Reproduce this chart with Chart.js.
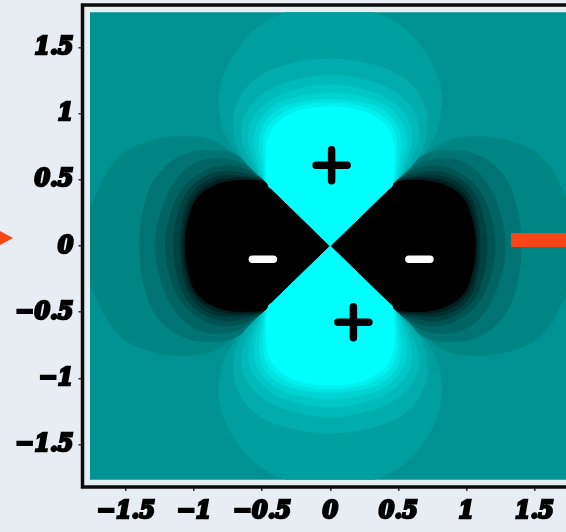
<!DOCTYPE html>
<html>
<head>
<meta charset="utf-8">
<script src="https://cdn.jsdelivr.net/npm/chart.js@4.4.1/dist/chart.umd.min.js"></script>
<style>
  html, body { margin: 0; padding: 0; background: #e7edf3; overflow: hidden; }
  #quadro { position: relative; width: 600px; height: 532px; }
  #quadro canvas { position: absolute; left: 0; top: 0; }
  .seta-esq {
    position: absolute; left: 0; top: 231px; width: 0; height: 0;
    border-top: 7.5px solid transparent; border-bottom: 7.5px solid transparent;
    border-left: 13px solid #fa4616;
  }
  .barra-dir { position: absolute; left: 511px; top: 233px; width: 60px; height: 14px; background: #fa4616; }
</style>
</head>
<body>
<div id="quadro">
  <canvas id="graficoOrbital" width="600" height="532"></canvas>
  <div class="seta-esq"></div>
  <div class="barra-dir"></div>
</div>
<script>
// Eixos
const MARCAS = [-1.5, -1, -0.5, 0, 0.5, 1, 1.5];
const LIMITE_EIXO = 1.82;
const LIMITE_CAMPO = 1.765;
const COR_BASE = '#009292';

// Curvas de nível, de fora para dentro. Cada uma é meia curva em pares [u, v]:
// u ao longo do eixo do lobo, v perpendicular (espelhada para fechar o lobo)
const NIVEIS_POS = [
  [[0.50, 0.50], [0.53, 0.53], [0.62, 0.63], [0.72, 0.70], [0.84, 0.77], [1.0, 0.81], [1.15, 0.815], [1.32, 0.77], [1.5, 0.67], [1.66, 0.52], [1.77, 0.30], [1.84, 0]],
  [[0.49, 0.49], [0.515, 0.515], [0.69, 0.655], [0.90, 0.71], [1.08, 0.68], [1.25, 0.56], [1.36, 0.34], [1.41, 0]],
  [[0.48, 0.48], [0.505, 0.505], [0.67, 0.60], [0.86, 0.65], [1.02, 0.61], [1.15, 0.49], [1.24, 0.30], [1.29, 0]],
  [[0.47, 0.47], [0.495, 0.495], [0.66, 0.565], [0.83, 0.60], [0.97, 0.56], [1.09, 0.45], [1.17, 0.28], [1.215, 0]],
  [[0.46, 0.46], [0.485, 0.485], [0.65, 0.535], [0.81, 0.56], [0.95, 0.515], [1.06, 0.41], [1.12, 0.26], [1.155, 0]],
  [[0.45, 0.45], [0.475, 0.475], [0.64, 0.505], [0.79, 0.52], [0.93, 0.48], [1.03, 0.38], [1.08, 0.24], [1.105, 0]],
  [[0.44, 0.44], [0.465, 0.465], [0.63, 0.485], [0.78, 0.49], [0.91, 0.45], [1.0, 0.35], [1.055, 0.22], [1.08, 0]],
  [[0.43, 0.43], [0.455, 0.455], [0.62, 0.47], [0.77, 0.465], [0.89, 0.42], [0.98, 0.32], [1.03, 0.19], [1.05, 0]]
];
const CORES_POS = ['#009f9f', '#00acac', '#00b9b9', '#00c6c6', '#00d3d3', '#00e1e1', '#00efef', '#00ffff'];

const NIVEIS_NEG = [
  [[0.52, 0.52], [0.56, 0.56], [0.63, 0.635], [0.70, 0.685], [0.845, 0.786], [1.04, 0.824], [1.30, 0.796], [1.55, 0.67], [1.74, 0.34], [1.86, 0]],
  [[0.51, 0.51], [0.54, 0.54], [0.69, 0.685], [0.89, 0.72], [1.07, 0.69], [1.24, 0.57], [1.35, 0.36], [1.40, 0]],
  [[0.50, 0.50], [0.53, 0.53], [0.67, 0.63], [0.85, 0.66], [1.0, 0.62], [1.13, 0.50], [1.23, 0.30], [1.285, 0]],
  [[0.49, 0.49], [0.52, 0.52], [0.66, 0.59], [0.82, 0.60], [0.95, 0.55], [1.07, 0.45], [1.16, 0.28], [1.21, 0]],
  [[0.48, 0.48], [0.51, 0.51], [0.65, 0.55], [0.80, 0.56], [0.93, 0.515], [1.04, 0.42], [1.11, 0.27], [1.15, 0]],
  [[0.47, 0.47], [0.50, 0.50], [0.64, 0.525], [0.78, 0.53], [0.91, 0.49], [1.01, 0.40], [1.07, 0.26], [1.10, 0]],
  [[0.46, 0.46], [0.49, 0.49], [0.63, 0.51], [0.77, 0.505], [0.89, 0.465], [0.99, 0.38], [1.05, 0.25], [1.08, 0]],
  [[0.45, 0.45], [0.48, 0.48], [0.62, 0.495], [0.75, 0.485], [0.86, 0.45], [0.97, 0.37], [1.03, 0.24], [1.065, 0]]
];
const CORES_NEG = ['#008585', '#007474', '#006464', '#005353', '#004242', '#003131', '#001f1f', '#000000'];

// Sinais sobre os lobos
const MAIS_X = [0.01, 0.17];
const MAIS_Y = [0.61, -0.575];
const MENOS_X = [-0.495, 0.655];
const MENOS_Y = [-0.10, -0.10];

// Orientação de cada lobo: (u, v) -> (x, y)
const LOBOS_POS = [(u, v) => ({ x: v, y: u }), (u, v) => ({ x: v, y: -u })];
const LOBOS_NEG = [(u, v) => ({ x: u, y: v }), (u, v) => ({ x: -u, y: v })];

const FONTE_MARCAS = {
  family: "'DejaVu Serif Condensed', 'DejaVu Serif', serif",
  size: 25,
  style: 'italic',
  weight: 'bold'
};

/**
 * Fecha a curva: parte da origem, percorre a meia curva e volta espelhada
 */
function montarContorno(meia, paraXY) {
  const ida = meia.map(([u, v]) => paraXY(u, v));
  const volta = meia.slice(0, -1).reverse().map(([u, v]) => paraXY(u, -v));
  return [paraXY(0, 0), ...ida, ...volta, paraXY(0, 0)];
}

const datasets = [
  {
    label: 'mais',
    data: MAIS_X.map((x, i) => ({ x, y: MAIS_Y[i] })),
    pointStyle: 'cross',
    pointRadius: 15.5,
    borderColor: '#000',
    borderWidth: 7.5,
    order: 0
  },
  {
    label: 'menos',
    data: MENOS_X.map((x, i) => ({ x, y: MENOS_Y[i] })),
    pointStyle: 'line',
    pointRadius: 10.5,
    borderColor: '#fff',
    borderWidth: 7.5,
    order: 0
  }
];

/**
 * Adiciona um conjunto de curvas de nível para cada lobo
 */
function adicionarLobos(niveis, cores, lobos) {
  lobos.forEach(paraXY => {
    niveis.forEach((meia, i) => {
      datasets.push({
        data: montarContorno(meia, paraXY),
        showLine: true,
        fill: 'shape',
        backgroundColor: cores[i],
        borderColor: cores[i],
        borderWidth: 1,
        tension: 0.4,
        pointRadius: 0,
        pointHitRadius: 0,
        order: niveis.length - i + 1 // externos por baixo
      });
    });
  });
}

adicionarLobos(NIVEIS_POS, CORES_POS, LOBOS_POS);
adicionarLobos(NIVEIS_NEG, CORES_NEG, LOBOS_NEG);

// Fundo do campo, recorte e moldura
const campo = {
  id: 'campo',
  beforeDatasetsDraw(chart) {
    const { ctx, scales: { x, y } } = chart;
    const esq = x.getPixelForValue(-LIMITE_CAMPO);
    const dir = x.getPixelForValue(LIMITE_CAMPO);
    const topo = y.getPixelForValue(LIMITE_CAMPO);
    const base = y.getPixelForValue(-LIMITE_CAMPO);
    ctx.save();
    ctx.fillStyle = COR_BASE;
    ctx.fillRect(esq, topo, dir - esq, base - topo);
    ctx.beginPath();
    ctx.rect(esq, topo, dir - esq, base - topo);
    ctx.clip();
    ctx.lineCap = 'round';
  },
  afterDatasetsDraw(chart) {
    const { ctx, chartArea: a } = chart;
    ctx.restore();
    ctx.save();
    ctx.strokeStyle = '#0b0b0b';
    ctx.lineWidth = 3.5;
    ctx.strokeRect(a.left, a.top, a.right - a.left, a.bottom - a.top);
    ctx.restore();
  }
};

const formatarMarca = v => (v < 0 ? '\u2212' : '') + Math.abs(v);

// Sem folga extra das etiquetas: a área do gráfico fica presa ao layout.padding
function semFolga(s) {
  s.paddingTop = 0;
  s.paddingBottom = 0;
  s.paddingLeft = 0;
  s.paddingRight = 0;
}

function eixo(extra, folgaMarcas) {
  return Object.assign({
    type: 'linear',
    min: -LIMITE_EIXO,
    max: LIMITE_EIXO,
    afterBuildTicks: s => { s.ticks = MARCAS.map(value => ({ value })); },
    grid: { drawOnChartArea: false, drawTicks: true, tickLength: 4, color: '#333', lineWidth: 1.5 },
    border: { display: false },
    ticks: {
      callback: formatarMarca,
      font: FONTE_MARCAS,
      color: '#000',
      textStrokeColor: '#000',
      textStrokeWidth: 2.5,
      padding: folgaMarcas,
      maxRotation: 0,
      autoSkip: false
    }
  }, extra);
}

new Chart(document.getElementById('graficoOrbital'), {
  type: 'scatter',
  data: { datasets },
  options: {
    responsive: false,
    animation: false,
    events: [],
    layout: { autoPadding: false, padding: { top: 5, right: 22, left: 0, bottom: 0 } },
    plugins: { legend: { display: false }, tooltip: { enabled: false } },
    scales: {
      x: eixo({ afterFit: s => { s.height = 45; semFolga(s); } }, 5),
      y: eixo({ afterFit: s => { s.width = 82.5; semFolga(s); } }, 5)
    }
  },
  plugins: [campo]
});
</script>
</body>
</html>
